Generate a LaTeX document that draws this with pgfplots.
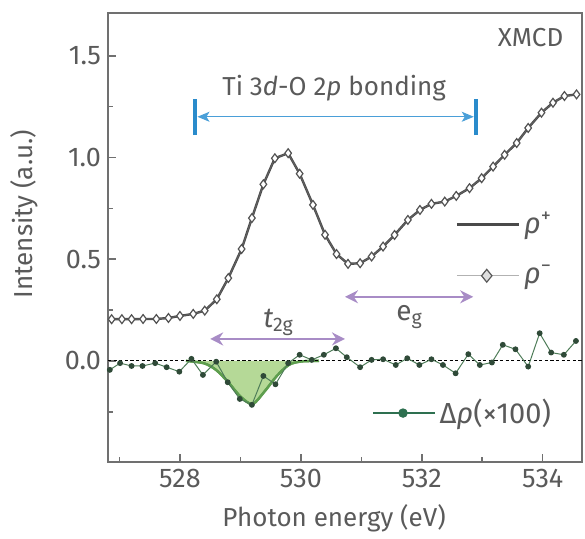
\documentclass[border=0pt]{standalone}
\usepackage{fontspec}
\setmainfont{Fira Sans}
\usepackage{pgfplots}
\pgfplotsset{compat=1.18}
\usepackage{pgfplotstable}
\usepgfplotslibrary{fillbetween}
\usetikzlibrary{arrows.meta}
\definecolor{txt}{HTML}{5A5A5A}
\definecolor{axc}{HTML}{707070}
\definecolor{bluel}{HTML}{4A9FD8}
\definecolor{blueb}{HTML}{2A8BCB}
\definecolor{purp}{HTML}{A88CC6}
\definecolor{fitc}{HTML}{5E9E4E}
\definecolor{fillc}{HTML}{B5D997}
\definecolor{dotc}{HTML}{2F4A38}
\definecolor{dlinec}{HTML}{4E7C58}
\definecolor{legg}{HTML}{2E7050}
\definecolor{rhoc}{HTML}{4A4A4A}

\pgfplotstableread{
x y
526.87 0.205
527.04 0.205
527.20 0.205
527.39 0.206
527.61 0.206
527.81 0.211
528.00 0.221
528.22 0.231
528.41 0.247
528.61 0.303
528.80 0.407
529.02 0.550
529.19 0.702
529.38 0.868
529.57 0.996
529.79 1.021
529.98 0.920
530.20 0.767
530.40 0.620
530.59 0.525
530.78 0.477
530.98 0.480
531.17 0.513
531.36 0.562
531.55 0.619
531.77 0.693
531.97 0.742
532.16 0.772
532.38 0.783
532.57 0.811
532.79 0.849
532.99 0.898
533.18 0.955
533.37 1.013
533.57 1.071
533.76 1.145
533.98 1.220
534.17 1.269
534.36 1.302
534.56 1.310
}\rhodata

\pgfplotstableread{
x y
526.84 -0.044
527.01 -0.011
527.20 -0.025
527.38 -0.025
527.59 -0.011
527.78 -0.031
527.99 -0.053
528.19 0.010
528.38 -0.069
528.60 -0.004
528.79 -0.105
528.99 -0.187
529.19 -0.216
529.38 -0.074
529.58 -0.115
529.79 -0.011
529.98 0.030
530.18 0.005
530.38 0.030
530.58 0.062
530.76 0.018
530.98 -0.031
531.17 0.005
531.36 0.008
531.57 -0.020
531.76 0.013
531.96 -0.020
532.16 0.008
532.35 -0.020
532.56 -0.061
532.77 0.033
532.96 -0.020
533.16 -0.008
533.34 0.079
533.55 0.057
533.76 -0.028
533.95 0.136
534.14 0.041
534.35 0.030
534.55 0.098
}\drhodata

\pgfplotstableread{
x y
528.10 0.000
528.40 -0.012
528.60 -0.045
528.80 -0.105
529.00 -0.175
529.20 -0.212
529.40 -0.150
529.60 -0.075
529.80 -0.020
530.00 -0.003
530.30 0.000
}\fitdata

\tikzset{txtfont/.style={font=\fontsize{13}{15}\selectfont}}
\pgfplotsset{
  common/.style={
    scale only axis, width=237pt, height=224.5pt,
    xmin=526.81, xmax=534.65, ymin=-0.497, ymax=1.71,
  },
  legA/.style={legend image code/.code={\draw[rhoc, line width=1.4pt] (0pt,0pt) -- (31pt,0pt);}},
  legB/.style={legend image code/.code={\draw[gray!60, line width=0.5pt] (0pt,0pt) -- (31pt,0pt);
    \draw[gray!70!black, line width=0.6pt, fill=gray!25] (15pt,3.2pt) -- (17.6pt,0pt) -- (15pt,-3.2pt) -- (12.4pt,0pt) -- cycle;}},
  legC/.style={legend image code/.code={\draw[legg, line width=0.6pt] (0pt,0pt) -- (31pt,0pt);
    \fill[legg] (15pt,0pt) circle (2.1pt);}},
}

\begin{document}
\begin{tikzpicture}
\begin{axis}[common, name=main,
  axis line style={draw=axc, line width=0.8pt},
  xtick={528,530,532,534}, minor xtick={527,529,531,533},
  ytick={0,0.5,1,1.5}, minor ytick={-0.25,0.25,0.75,1.25},
  tick align=inside, xtick pos=lower, ytick pos=left,
  major tick length=4pt, minor tick length=2.5pt,
  tick style={draw=axc, line width=0.8pt},
  /pgf/number format/assume math mode=true,
  yticklabel style={/pgf/number format/fixed, /pgf/number format/fixed zerofill, /pgf/number format/precision=1},
  xticklabel style={/pgf/number format/1000 sep={}},
  tick label style={font=\fontsize{13.5}{15}\selectfont, text=txt},
  xlabel={Photon energy (eV)}, ylabel={Intensity (a.u.)},
  label style={font=\fontsize{13}{15}\selectfont, text=txt},
  xlabel style={at={(axis description cs:0.477,-0.125)}, anchor=center},
  ylabel style={at={(axis description cs:-0.177,0.552)}, anchor=center},
  legend style={at={(axis description cs:0.732,0.566)}, anchor=north west,
    draw=none, fill=none, font=\fontsize{14.5}{16}\selectfont, text=txt, row sep=10.5pt, inner sep=0pt,
    nodes={inner sep=2pt}},
  legend cell align=left,
]
\addplot[rhoc, line width=1.2pt, legA] table {\rhodata};
\addlegendentry{\textit{ρ}\textsuperscript{+}}
\addplot[gray!75!black, line width=0.5pt, mark=diamond*, mark size=2.2pt,
  mark options={fill=white, draw=gray!65!black, line width=0.6pt}, legB] table {\rhodata};
\addlegendentry{\textit{ρ}\textsuperscript{−}}

\draw[bluel, line width=0.6pt, {Stealth[length=6pt,width=5pt,inset=1.5pt]}-{Stealth[length=6pt,width=5pt,inset=1.5pt]}] (axis cs:528.29,1.2) -- (axis cs:532.86,1.2);
\draw[blueb, line width=1.7pt] (axis cs:528.25,1.11) -- (axis cs:528.25,1.285);
\draw[blueb, line width=1.7pt] (axis cs:532.90,1.11) -- (axis cs:532.90,1.285);
\node[txtfont, text=txt] at (axis cs:530.55,1.342) {Ti 3\textit{d}-O 2\textit{p} bonding};
\node[txtfont, text=txt] at (axis cs:533.80,1.588) {XMCD};

\draw[purp, line width=1.3pt, {Stealth[length=6.5pt,width=6.5pt]}-{Stealth[length=6.5pt,width=6.5pt]}] (axis cs:528.50,0.108) -- (axis cs:530.73,0.108);
\draw[purp, line width=1.3pt, {Stealth[length=6.5pt,width=6.5pt]}-{Stealth[length=6.5pt,width=6.5pt]}] (axis cs:530.73,0.315) -- (axis cs:532.85,0.315);
\node[font=\fontsize{14}{16}\selectfont, text=txt] at (axis cs:529.63,0.19) {\textit{t}\textsubscript{2g}};
\node[font=\fontsize{14}{16}\selectfont, text=txt] at (axis cs:531.80,0.216) {e\textsubscript{g}};
\end{axis}

\begin{axis}[common, hide axis,
  legend style={at={(axis description cs:0.557,0.109)}, anchor=west,
    draw=none, fill=none, font=\fontsize{14.5}{16}\selectfont, text=txt, inner sep=0pt, nodes={inner sep=2pt}},
]
\addplot[name path=fit, fitc, line width=1.2pt, smooth, forget plot] table {\fitdata};
\addplot[name path=zero, draw=none, forget plot] coordinates {(528.10,0) (530.30,0)};
\addplot[fillc, forget plot] fill between[of=fit and zero];
\addplot[fitc, line width=1.2pt, smooth, forget plot] table {\fitdata};
\addplot[black, line width=0.5pt, dash pattern=on 1.6pt off 1.2pt, forget plot] coordinates {(526.81,0) (534.65,0)};
\addplot[dlinec, line width=0.5pt, mark=*, mark size=1.2pt, mark options={fill=dotc, draw=dotc}, legC] table {\drhodata};
\addlegendentry{Δ\textit{ρ}(×100)}
\end{axis}
\path (main.south west) ++(-54pt,-37.5pt) rectangle ++(292.5pt,268.5pt);
\end{tikzpicture}
\end{document}
